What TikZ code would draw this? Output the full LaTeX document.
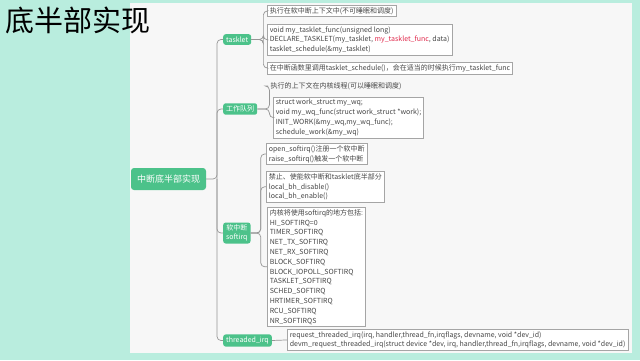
\documentclass[tikz,border=0pt]{standalone}
\usepackage{fontspec}
\setmainfont{Noto Sans CJK SC}
\definecolor{bgmint}{RGB}{185,237,222}
\definecolor{panel}{RGB}{247,247,247}
\definecolor{mindgreen}{RGB}{76,194,138}
\definecolor{boxgray}{RGB}{165,165,165}
\definecolor{txtgray}{RGB}{70,70,70}
\definecolor{linegray}{RGB}{150,150,150}
\definecolor{redtxt}{RGB}{225,40,75}
\begin{document}
\begin{tikzpicture}[x=1pt,y=-1pt,
  leaf/.style={draw=boxgray, fill=white, line width=0.6pt, align=left, anchor=north west,
    font=\fontsize{7}{9.8}\selectfont, text=txtgray, inner xsep=2.5pt, inner ysep=2pt},
  plain/.style={align=left, anchor=west, font=\fontsize{7}{9.8}\selectfont, text=txtgray, inner xsep=2.5pt, inner ysep=2pt},
  branch/.style={fill=mindgreen, rounded corners=2.5pt, text=white, font=\fontsize{7}{8.5}\selectfont,
    inner xsep=3pt, inner ysep=2.5pt, anchor=west, align=center},
  link/.style={draw=linegray, line width=0.7pt, rounded corners=4pt}]
\useasboundingbox (0,0) rectangle (640,360);
\fill[bgmint] (0,0) rectangle (640,360);
\fill[panel] (130,3) rectangle (632,353);
\node[anchor=north west, inner sep=0pt, font=\fontsize{29}{32}\selectfont, text=black] (title) at (5,7) {底半部实现};

% central
\node[fill=mindgreen, rounded corners=3pt, text=white, font=\fontsize{9}{10}\selectfont,
  minimum width=75pt, minimum height=22pt, inner sep=0pt] (root) at (168.5,179) {中断底半部实现};
\coordinate (trunk) at (217,179);

% branches
\node[branch] (tasklet) at (223,39.5) {tasklet};
\node[branch] (wq) at (223,109) {工作队列};
\node[branch] (softirq) at (223,233) {软中断\\softirq};
\node[branch] (thirq) at (223,340.5) {threaded\_irq};

\draw[link] (root.east) -- (trunk) |- (tasklet.west);
\draw[link] (trunk) |- (wq.west);
\draw[link] (trunk) |- (softirq.west);
\draw[link] (trunk) |- (thirq.west);

% tasklet leaves
\node[leaf] (t1) at (267,5) {执行在软中断上下文中(不可睡眠和调度)};
\node[leaf] (t2) at (267,24) {void my\_tasklet\_func(unsigned long)\\DECLARE\_TASKLET(my\_tasklet, {\color{redtxt}my\_tasklet\_func}, data)\\tasklet\_schedule(\&my\_tasklet)};
\node[leaf] (t3) at (267,62) {在中断函数里调用tasklet\_schedule()，会在适当的时候执行my\_tasklet\_func};
\draw[link] (tasklet.east) -- ++(12,0) |- (t1.west);
\draw[link] (tasklet.east) -- ++(12,0) |- (t2.west);
\draw[link] (tasklet.east) -- ++(12,0) |- (t3.west);

% workqueue leaves
\node[plain] (w1) at (268,86) {执行的上下文在内核线程(可以睡眠和调度)};
\node[leaf] (w2) at (273,97) {struct work\_struct my\_wq;\\void my\_wq\_func(struct work\_struct *work);\\INIT\_WORK(\&my\_wq,my\_wq\_func);\\schedule\_work(\&my\_wq)};
\draw[link] (wq.east) -- ++(12,0) |- (w1.west);
\draw[link] (wq.east) -- ++(12,0) |- (w2.west);

% softirq leaves
\node[leaf] (s1) at (266,143) {open\_softirq()注册一个软中断\\raise\_softirq()触发一个软中断};
\node[leaf] (s2) at (266,171) {禁止、使能软中断和tasklet底半部分\\local\_bh\_disable()\\local\_bh\_enable()};
\node[leaf] (s3) at (267,207) {内核将使用softirq的地方包括:\\HI\_SOFTIRQ=0\\TIMER\_SOFTIRQ\\NET\_TX\_SOFTIRQ\\NET\_RX\_SOFTIRQ\\BLOCK\_SOFTIRQ\\BLOCK\_IOPOLL\_SOFTIRQ\\TASKLET\_SOFTIRQ\\SCHED\_SOFTIRQ\\HRTIMER\_SOFTIRQ\\RCU\_SOFTIRQ\\NR\_SOFTIRQS};
\draw[link] (softirq.east) -- ++(10,0) |- (s1.west);
\draw[link] (softirq.east) -- ++(10,0) |- (s2.west);
\draw[link] (softirq.east) -- ++(10,0) |- (s3.west);

% threaded irq leaf
\node[leaf] (th) at (287,329) {request\_threaded\_irq(irq, handler,thread\_fn,irqflags, devname, void *dev\_id)\\devm\_request\_threaded\_irq(struct device *dev, irq, handler,thread\_fn,irqflags, devname, void *dev\_id)};
\draw[link] (thirq.east) -- (th.west);
\end{tikzpicture}
\end{document}
